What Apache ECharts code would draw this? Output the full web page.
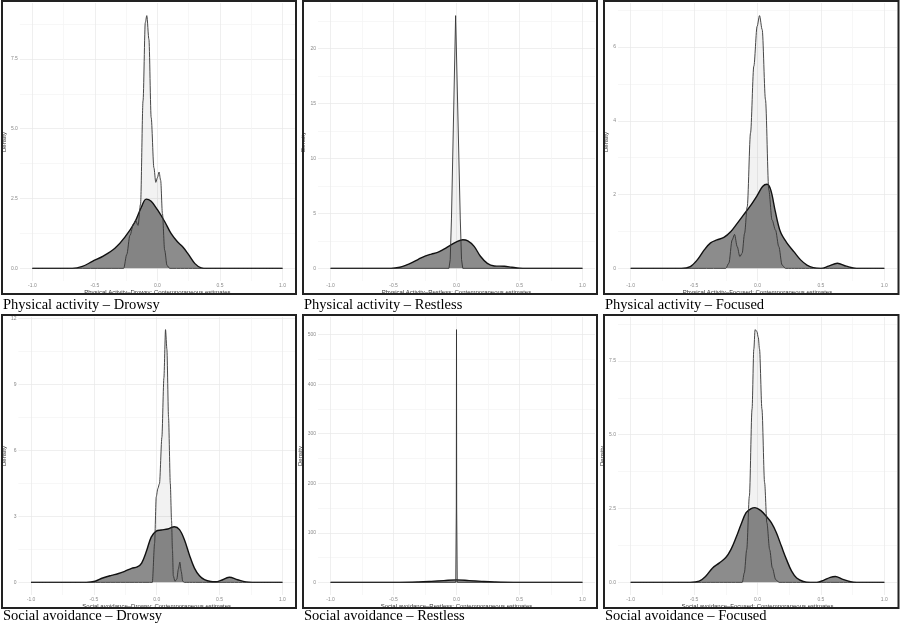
<!DOCTYPE html>
<html><head><meta charset="utf-8">
<script src="https://cdn.jsdelivr.net/npm/echarts@6/dist/echarts.min.js"></script>
<style>html,body{margin:0;padding:0;background:#fff}#c{width:900px;height:627px}</style>
</head><body><div id="c"></div>
<script>
// ---------- data ----------
const panelTitles = [
  'Physical activity – Drowsy', 'Physical activity – Restless', 'Physical activity – Focused',
  'Social avoidance – Drowsy', 'Social avoidance – Restless', 'Social avoidance – Focused'
];
const xAxisNames = [
  'Physical Activity–Drowsy: Contemporaneous estimates',
  'Physical Activity–Restless: Contemporaneous estimates',
  'Physical Activity–Focused: Contemporaneous estimates',
  'Social avoidance–Drowsy: Contemporaneous estimates',
  'Social avoidance–Restless: Contemporaneous estimates',
  'Social avoidance–Focused: Contemporaneous estimates'
];
const xTicks = [-1, -0.5, 0, 0.5, 1];
const yTicksPAD = [0, 2.5, 5, 7.5];
const yTicksPAR = [0, 5, 10, 15, 20];
const yTicksPAF = [0, 2, 4, 6];
const yTicksSAD = [0, 3, 6, 9, 12];
const yTicksSAR = [0, 100, 200, 300, 400, 500];
const yTicksSAF = [0, 2.5, 5, 7.5];

// wide (dark) densities
const widePAD = [[-1,0],[-0.68,0],[-0.6,0.07],[-0.52,0.25],[-0.43,0.45],[-0.34,0.72],[-0.26,1.12],[-0.18,1.66],[-0.13,2.18],[-0.09,2.48],[-0.05,2.4],[0.0,2.1],[0.06,1.66],[0.11,1.24],[0.16,0.95],[0.2,0.78],[0.245,0.52],[0.3,0.17],[0.35,0.02],[0.4,0],[1,0]];
const widePAR = [[-1,0],[-0.52,0],[-0.45,0.1],[-0.4,0.3],[-0.35,0.55],[-0.3,0.85],[-0.25,1.12],[-0.2,1.3],[-0.15,1.45],[-0.1,1.75],[-0.05,2.1],[0.0,2.42],[0.05,2.6],[0.09,2.5],[0.14,2.0],[0.19,1.1],[0.245,0.45],[0.3,0.22],[0.38,0.19],[0.44,0.1],[0.5,0.02],[0.56,0],[1,0]];
const widePAF = [[-1,0],[-0.6,0],[-0.53,0.05],[-0.475,0.23],[-0.42,0.5],[-0.37,0.69],[-0.32,0.77],[-0.265,0.84],[-0.21,1.0],[-0.16,1.22],[-0.11,1.45],[-0.055,1.7],[0.0,1.99],[0.04,2.22],[0.075,2.28],[0.105,2.12],[0.14,1.55],[0.18,1.0],[0.23,0.7],[0.29,0.44],[0.34,0.23],[0.39,0.09],[0.44,0.02],[0.5,0],[0.56,0.06],[0.63,0.14],[0.7,0.06],[0.78,0],[1,0]];
const wideSAD = [[-1,0],[-0.56,0],[-0.49,0.05],[-0.43,0.2],[-0.36,0.32],[-0.31,0.39],[-0.255,0.5],[-0.2,0.64],[-0.155,0.7],[-0.12,0.88],[-0.083,1.4],[-0.044,2.06],[-0.004,2.33],[0.036,2.38],[0.088,2.43],[0.141,2.53],[0.181,2.4],[0.221,1.93],[0.26,1.25],[0.3,0.65],[0.34,0.3],[0.38,0.12],[0.43,0.04],[0.47,0.03],[0.51,0.09],[0.577,0.23],[0.643,0.12],[0.71,0.02],[0.76,0],[1,0]];
const wideSAR = [[-1,0],[-0.45,0],[-0.3,0.8],[-0.2,2],[-0.1,3.5],[0,5],[0.1,3.5],[0.2,2],[0.3,0.8],[0.45,0],[1,0]];
const wideSAF = [[-1,0],[-0.53,0],[-0.46,0.04],[-0.41,0.2],[-0.356,0.48],[-0.3,0.66],[-0.25,0.84],[-0.21,1.11],[-0.17,1.51],[-0.13,1.96],[-0.09,2.36],[-0.05,2.5],[-0.02,2.53],[0.029,2.42],[0.069,2.24],[0.109,2.02],[0.149,1.68],[0.189,1.22],[0.229,0.77],[0.269,0.38],[0.309,0.15],[0.362,0.03],[0.415,0],[0.468,0],[0.521,0.07],[0.574,0.17],[0.614,0.2],[0.668,0.11],[0.734,0.02],[0.78,0],[1,0]];

// narrow (light) densities
const narrowPAD = [[-1,0],[-0.27,0],[-0.245,0.5],[-0.22,1.18],[-0.19,1.6],[-0.175,1.72],[-0.155,1.54],[-0.135,2.3],[-0.115,6.0],[-0.097,8.8],[-0.085,9.05],[-0.068,8.2],[-0.05,5.4],[-0.028,3.6],[-0.013,3.08],[0.0,3.25],[0.013,3.45],[0.026,3.15],[0.04,1.96],[0.058,0.65],[0.077,0.1],[0.098,0],[1,0]];
const narrowPAR = [[-1,0],[-0.06,0],[-0.05,0.8],[-0.04,4.5],[-0.007,23],[0.03,4.5],[0.04,0.8],[0.05,0],[1,0]];
const narrowPAF = [[-1,0],[-0.25,0],[-0.226,0.14],[-0.2,0.77],[-0.181,0.92],[-0.16,0.59],[-0.139,0.32],[-0.121,0.41],[-0.102,0.95],[-0.081,1.67],[-0.055,3.67],[-0.029,5.48],[-0.003,6.56],[0.016,6.85],[0.037,6.47],[0.063,4.57],[0.089,2.13],[0.115,1.31],[0.142,1.04],[0.168,0.59],[0.194,0.09],[0.22,0],[1,0]];
const narrowSAD = [[-1,0],[-0.035,0],[-0.017,1.78],[-0.004,3.89],[0.009,4.27],[0.022,4.5],[0.041,6.6],[0.057,9.3],[0.07,11.5],[0.081,10.6],[0.094,7.5],[0.108,4.5],[0.118,2.8],[0.125,1.5],[0.132,0.3],[0.145,0.05],[0.16,0.15],[0.172,0.6],[0.184,0.92],[0.195,0.5],[0.207,0.05],[0.22,0],[1,0]];
const narrowSAR = [[-1,0],[-0.006,0],[-0.0015,150],[0,510],[0.0015,150],[0.006,0],[1,0]];
const narrowSAF = [[-1,0],[-0.12,0],[-0.104,0.32],[-0.085,1.11],[-0.064,2.92],[-0.043,5.87],[-0.029,7.9],[-0.019,8.56],[-0.005,8.5],[0.006,8.3],[0.016,7.9],[0.035,5.87],[0.056,3.38],[0.074,2.02],[0.096,1.11],[0.117,0.49],[0.144,0.09],[0.17,0],[1,0]];

const wideSets = [widePAD, widePAR, widePAF, wideSAD, wideSAR, wideSAF];
const narrowSets = [narrowPAD, narrowPAR, narrowPAF, narrowSAD, narrowSAR, narrowSAF];
const yTickSets = [yTicksPAD, yTicksPAR, yTicksPAF, yTicksSAD, yTicksSAR, yTicksSAF];
const yDecimals = [1, 0, 0, 0, 0, 1];
const narrowSmooth = [0.3, 0, 0.3, 0.25, 0, 0.3];

// ---------- layout ----------
const colLeft = [17, 318, 618];
const colWidth = [278, 277, 279];
const rowTop = [3, 317];
const plotH = 278;
const boxX = [2, 303, 604];
const boxW = [294, 294, 294.5];
const boxY = [1, 315];
const boxH = 293;
const titleY = [305, 616];

function withMinors(ticks, lo, hi) {
  const step = ticks[1] - ticks[0];
  const out = [];
  for (let v = ticks[0] - step; v <= ticks[ticks.length - 1] + step + 1e-9; v += step / 2) {
    const r = Math.round(v * 1e6) / 1e6;
    if (r >= lo && r <= hi) out.push(r);
  }
  return out;
}

const grid = [], xAxis = [], yAxis = [], series = [], graphic = [];
for (let i = 0; i < 6; i++) {
  const r = Math.floor(i / 3), c = i % 3;
  grid.push({ left: colLeft[c], width: colWidth[c], top: rowTop[r], height: plotH });
  const M = Math.max(...wideSets[i].map(p => p[1]), ...narrowSets[i].map(p => p[1]));
  const ymin = -0.05 * M, ymax = 1.05 * M;
  const xg = withMinors(xTicks, -1.1, 1.1);
  const xc = xg.map(v => (Math.round(v / 0.5 * 1e6) / 1e6) % 1 === 0 ? '#e8e8e8' : '#f4f4f4');
  xAxis.push({
    type: 'value', gridIndex: i, min: -1.1, max: 1.1,
    axisLine: { show: false },
    axisTick: { show: false, customValues: xg },
    axisLabel: { customValues: xTicks, formatter: v => v.toFixed(1), fontSize: 5, color: '#8a8a8a', margin: 2, fontFamily: 'Liberation Sans' },
    splitLine: { show: true, customValues: xg, lineStyle: { color: xc, width: 0.7 } },
    name: xAxisNames[i], nameLocation: 'middle', nameGap: 4.5,
    nameTextStyle: { fontSize: 6, color: '#333', fontFamily: 'Liberation Sans' }
  });
  const yt = yTickSets[i];
  const yg = withMinors(yt, ymin, ymax);
  const step = yt[1] - yt[0];
  const yc = yg.map(v => Math.abs(Math.round(v / step) - v / step) < 1e-6 ? '#e8e8e8' : '#f4f4f4');
  yAxis.push({
    type: 'value', gridIndex: i, min: ymin, max: ymax,
    axisLine: { show: false },
    axisTick: { show: false, customValues: yg },
    axisLabel: { customValues: yt, formatter: v => v.toFixed(yDecimals[i]), fontSize: 5, color: '#8a8a8a', margin: 2, fontFamily: 'Liberation Sans' },
    splitLine: { show: true, customValues: yg, lineStyle: { color: yc, width: 0.7 } },
    name: 'Density', nameLocation: 'middle', nameGap: 9, nameRotate: 90,
    nameTextStyle: { fontSize: 6, color: '#333', fontFamily: 'Liberation Sans' }
  });
  series.push({
    type: 'line', xAxisIndex: i, yAxisIndex: i, data: wideSets[i],
    showSymbol: false, smooth: 0.35, z: 2,
    lineStyle: { color: '#111', width: 1.4 },
    areaStyle: { color: '#8c8c8c', opacity: 1 }
  });
  series.push({
    type: 'line', xAxisIndex: i, yAxisIndex: i, data: narrowSets[i],
    showSymbol: false, smooth: narrowSmooth[i], smoothMonotone: 'x', z: 3,
    lineStyle: { color: '#333', width: 0.9 },
    areaStyle: { color: 'rgba(0,0,0,0.05)', opacity: 1 }
  });
  graphic.push({
    type: 'rect', shape: { x: boxX[c], y: boxY[r], width: boxW[c], height: boxH },
    style: { fill: 'none', stroke: '#222', lineWidth: 2 }, z: 100, silent: true
  });
  graphic.push({
    type: 'text', x: boxX[c] + 1, y: titleY[r],
    style: { text: panelTitles[i], fontSize: 14.5, fontFamily: 'Liberation Serif', fill: '#000', textVerticalAlign: 'middle', textAlign: 'left' },
    z: 100, silent: true
  });
}

const chart = echarts.init(document.getElementById('c'), null, { renderer: 'canvas' });
chart.setOption({ animation: false, backgroundColor: '#fff', grid, xAxis, yAxis, series, graphic });
</script>
</body></html>
